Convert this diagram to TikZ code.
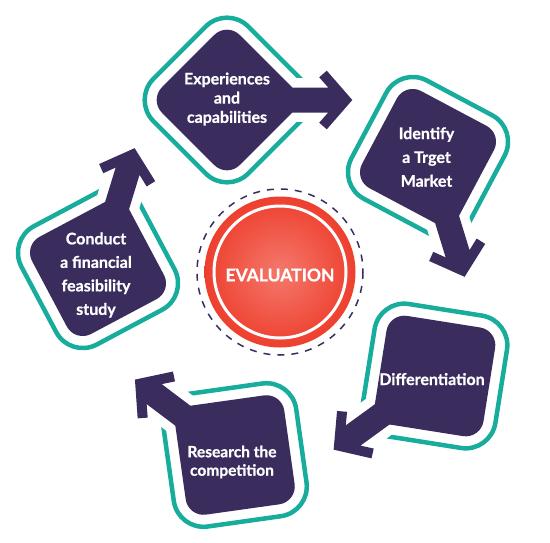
\documentclass[tikz,border=0pt]{standalone}
\usepackage{fontspec}
\setmainfont{Lato}
\IfFontExistsTF{Lato Bold}
  {\newfontfamily\lblfont{Lato Bold}[FakeBold=0.8]}
  {\newfontfamily\lblfont{Lato}[FakeBold=2.2]}
\definecolor{plum}{HTML}{3A2D5E}
\definecolor{tealc}{HTML}{17AC9C}
\definecolor{redout}{HTML}{EE3F2E}
\definecolor{redin}{HTML}{F4796C}
\tikzset{
  outline/.style={draw=tealc, line width=4.5pt, rounded corners=30pt},
  body/.style={fill=plum, rounded corners=18pt},
  lbl/.style={text=white, align=center, inner sep=0pt},
}
\newcommand\cycleshape[3]{%
  \begin{scope}[shift={(#1,#2)}, rotate=#3]
    \draw[outline, rotate=45] (-67,-67) -- (67,-67) -- (67,67) -- (-67,67) -- cycle;
    \fill[white] (48,-22) rectangle (108,22);
    \fill[body, rotate=45] (-55,-55) -- (55,-55) -- (55,55) -- (-55,55) -- cycle;
    \fill[plum] (40,-12.5) -- (101.2,-12.5) -- (92.2,-22.7) -- (99.8,-29.3)
      -- (125.3,0) -- (99.8,29.3) -- (92.2,22.7) -- (101.2,12.5) -- (40,12.5) -- cycle;
  \end{scope}}
\begin{document}
\begin{tikzpicture}[x=1pt,y=-1pt]
\useasboundingbox (0,0) rectangle (550,542);
% five steps
\cycleshape{227}{100}{0}
\cycleshape{428}{157}{-73}
\cycleshape{435}{376}{-144}
\cycleshape{235}{455}{143}
\cycleshape{98}{268}{73}
\node[lbl, font=\lblfont\fontsize{16}{19.2}\selectfont] (exp) at (227,99) {Experiences\\and\\capabilities};
\node[lbl, font=\lblfont\fontsize{16}{23.8}\selectfont] (ide) at (426.5,157) {Identify\\a Trget\\Market};
\node[lbl, font=\lblfont\fontsize{16}{23.5}\selectfont, anchor=base] (dif) at (432,385) {Differentiation};
\node[lbl, font=\lblfont\fontsize{15.5}{18.5}\selectfont] (res) at (232,462) {Research the\\competition};
\node[lbl, font=\lblfont\fontsize{16}{23.5}\selectfont] (con) at (96,275) {Conduct\\a financial\\feasibility\\study};
% centre
\draw[plum, line width=1.5pt, dash pattern=on 7pt off 7pt] (280,272) circle (83);
\shade[inner color=redin, outer color=redout] (280,272) circle (75.5);
\draw[white, line width=3pt] (280,272) circle (66);
\node[lbl, font=\lblfont\fontsize{17.5}{20}\selectfont] (eval) at (280,275) {EVALUATION};
\end{tikzpicture}
\end{document}
